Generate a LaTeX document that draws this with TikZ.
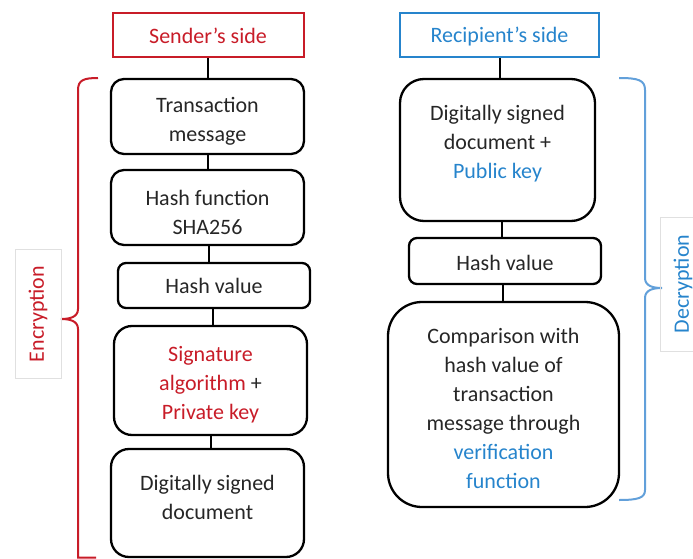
\documentclass[tikz,border=0pt]{standalone}
\usepackage{fontspec}
\setmainfont{Carlito}
\definecolor{sendred}{RGB}{200,28,40}
\definecolor{recblue}{RGB}{38,132,204}
\definecolor{braceblue}{RGB}{98,160,218}
\newcommand{\lowtop}[1]{\rule{0pt}{#1}}
\newcommand{\highbot}[1]{\rule[-#1]{0pt}{0pt}}
\tikzset{
	header/.style={draw, line width=2pt, minimum height=44pt, inner sep=0pt},
	stepbox/.style={draw=black, line width=2.3pt, align=center, text=black!85, inner sep=0pt},
	link/.style={draw=black, line width=2pt},
	sidelabel/.style={draw=black!12, line width=0.8pt, rotate=90, minimum height=46pt, inner sep=0pt}
}

\begin{document}
\begin{tikzpicture}[x=1pt, y=-1pt, every node/.style={font=\fontsize{22}{29}\selectfont}]
			\useasboundingbox (0,0) rectangle (693,559);
			\clip (0,0) rectangle (693,559);

			% Sender's side
			\node[header, draw=sendred, text=sendred, minimum width=191pt] (sender) at (208,35.5) {Sender’s side};
			\node[stepbox, rounded corners=13pt, minimum width=193pt, minimum height=75pt] (trans) at (207.5,116.5) {\lowtop{24.5pt}Transaction\\message};
			\node[stepbox, rounded corners=13pt, minimum width=193pt, minimum height=75pt] (hashfn) at (207.5,207.5) {\lowtop{25.5pt}Hash function\\SHA256};
			\node[stepbox, rounded corners=8pt, minimum width=192pt, minimum height=45pt] (hashval) at (214,285.5) {Hash value};
			\node[stepbox, rounded corners=18pt, minimum width=193pt, minimum height=109pt] (sign) at (210.5,380.5) {\lowtop{24.5pt}\textcolor{sendred}{Signature}\\\textcolor{sendred}{algorithm} +\\\textcolor{sendred}{Private key}};
			\node[stepbox, rounded corners=18pt, minimum width=193pt, minimum height=108pt] (signed) at (207.5,503) {Digitally signed\\document\highbot{12pt}};

			% Recipient's side
			\node[header, draw=recblue, text=recblue, minimum width=199pt] (recip) at (499.5,35.5) {\lowtop{17pt}Recipient’s side};
			\node[stepbox, rounded corners=24pt, minimum width=195pt, minimum height=142pt] (received) at (497.5,150) {Digitally signed\\document +\\\textcolor{recblue}{Public key}\highbot{16.5pt}};
			\node[stepbox, rounded corners=8pt, minimum width=192pt, minimum height=46pt] (rhashval) at (505,261) {\lowtop{19pt}Hash value};
			\node[stepbox, rounded corners=34pt, minimum width=231pt, minimum height=205pt] (compare) at (503.5,404.5) {\lowtop{23.5pt}Comparison with\\hash value of\\transaction\\message through\\\textcolor{recblue}{verification}\\\textcolor{recblue}{function}};

			% Links
			\draw[link] (sender.south) -- (sender.south |- trans.north);
			\draw[link] (trans.south) -- (trans.south |- hashfn.north);
			\draw[link] ([xshift=1.5pt]hashfn.south) -- ([xshift=1.5pt]hashfn.south |- hashval.north);
			\draw[link] ([xshift=-1.5pt]hashval.south) -- ([xshift=-1.5pt]hashval.south |- sign.north);
			\draw[link] (sign.south) -- (sign.south |- signed.north);
			\draw[link] (recip.south) -- (recip.south |- received.north);
			\draw[link] ([xshift=4pt]received.south) -- ([xshift=4pt]received.south |- rhashval.north);
			\draw[link] ([xshift=-2pt]rhashval.south) -- ([xshift=-2pt]rhashval.south |- compare.north);

			% Braces
			\draw[sendred, line width=2pt] (98,78) .. controls (84,78) and (78,80) .. (78,90) -- (78,309)
				.. controls (78,317) and (70,319) .. (61,319) .. controls (70,319) and (78,321) .. (78,329) -- (78,557.5) -- (96,557.5);
			\draw[braceblue, line width=2pt] (619,78) .. controls (638,78) and (645,80) .. (645,90) -- (645,278)
				.. controls (645,286) and (653,288) .. (662,288) .. controls (653,288) and (645,290) .. (645,298) -- (645,490)
				.. controls (645,498) and (638,500) .. (619,500);

			% Side labels
			\node[sidelabel, text=sendred, minimum width=129pt] (enc) at (38,314) {Encryption};
			\node[sidelabel, text=recblue, minimum width=134pt] (dec) at (683,284) {Decryption};
		\end{tikzpicture}
\end{document}
